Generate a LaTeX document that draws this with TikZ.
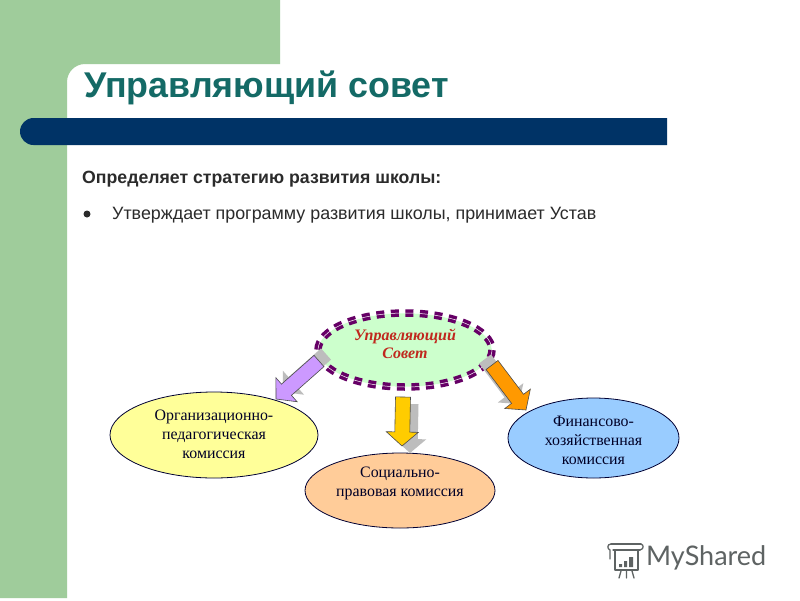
\documentclass[tikz,border=0pt]{standalone}
\usepackage{fontspec}
\setmainfont{Liberation Serif}
\newfontfamily\arialf{Liberation Sans}
\newfontfamily\logof{Lato}
\usetikzlibrary{calc,shapes.geometric}
\definecolor{sidegreen}{HTML}{9FCC9B}
\definecolor{barblue}{HTML}{003366}
\definecolor{titleteal}{HTML}{146A66}
\definecolor{bodygrey}{HTML}{2B2B2B}
\definecolor{dashpurple}{HTML}{660066}
\definecolor{arrowgrey}{HTML}{BDBDBD}
\definecolor{logogrey}{HTML}{5E6363}
\definecolor{yellowfill}{HTML}{FFFF99}
\definecolor{peachfill}{HTML}{FFCC99}
\definecolor{bluefill}{HTML}{99CCFF}
\definecolor{greenfill}{HTML}{CCFFCC}
\definecolor{councilred}{HTML}{C0281E}
\definecolor{lilacfill}{HTML}{CC99FF}
\definecolor{goldfill}{HTML}{FFCC00}
\definecolor{orangefill}{HTML}{FF9900}
\tikzset{
  x=1pt,y=-1pt,
  commission/.style={ellipse,draw=black!80!blue,line width=0.8pt,inner sep=0pt},
  commtext/.style={inner sep=0pt,align=center,text=black!85!blue,font=\fontsize{15.9}{19}\selectfont},
  headline/.style={anchor=base west,inner sep=0pt,font=\arialf\bfseries\fontsize{35.8}{40}\selectfont,text=titleteal},
  subhead/.style={anchor=base west,inner sep=0pt,font=\arialf\bfseries\fontsize{17.7}{20}\selectfont,text=bodygrey},
  bodyline/.style={anchor=base west,inner sep=0pt,font=\arialf\fontsize{17.87}{20}\selectfont,text=bodygrey},
  logoink/.style={draw=logogrey,line width=1.3pt,line cap=round,line join=round},
}
\newcommand{\blockarrow}[3]{% from, to, colour
  \coordinate (ba) at #1;
  \coordinate (bb) at #2;
  \coordinate (bh) at ($(bb)!14pt!(ba)$);
  \filldraw[#3,line join=miter]
    ($(ba)!7.5pt!90:(bb)$) -- ($(bh)!7.5pt!90:(bb)$) -- ($(bh)!16pt!90:(bb)$) -- (bb)
    -- ($(bh)!16pt!-90:(bb)$) -- ($(bh)!7.5pt!-90:(bb)$) -- ($(ba)!7.5pt!-90:(bb)$) -- cycle;
}
\begin{document}
\begin{tikzpicture}
\useasboundingbox (0,0) rectangle (800,600);
\fill[white] (0,0) rectangle (800,600);
% background
\fill[sidegreen] (0,0) -- (280,0) -- (280,64) -- (85,64) arc[start angle=-90,end angle=-180,radius=18] -- (67,598) -- (0,598) -- cycle;
\fill[barblue] (33.5,118) -- (667,118) -- (667,145) -- (33.5,145) arc[start angle=90,end angle=270,radius=13.5] -- cycle;
% texts
\node[headline] (title) at (84,97) {Управляющий совет};
\node[subhead] (lead) at (82,183) {Определяет стратегию развития школы:};
\fill[bodygrey] (87,214) circle (3.5);
\node[bodyline] (item) at (112,219) {Утверждает программу развития школы, принимает Устав};
% ellipses
\node[commission,fill=yellowfill,minimum width=208pt,minimum height=86pt] (org) at (214,435) {};
\node[commission,fill=peachfill,minimum width=190pt,minimum height=75pt] (soc) at (400,490.5) {};
\node[commission,fill=bluefill,minimum width=171pt,minimum height=80pt] (fin) at (593.5,438) {};
\node[ellipse,fill=greenfill,minimum width=174pt,minimum height=74pt,inner sep=0pt] (council) at (405,350) {};
\draw[dashpurple,line width=7.5pt,dash pattern=on 8pt off 6.5pt] (405,350) ellipse[x radius=87,y radius=37];
\draw[white,line width=0.5pt] (405,350) ellipse[x radius=87,y radius=37];
% ellipse texts
\node[commtext] (orgtext) at ($(org.center)+(0,-1)$) {Организационно-\\педагогическая\\комиссия};
\node[commtext] (soctext) at ($(soc.center)+(0,-7.5)$) {Социально-\\правовая комиссия};
\node[commtext] (fintext) at ($(fin.center)+(0,2)$) {Финансово-\\хозяйственная\\комиссия};
\node[inner sep=0pt,align=center,text=councilred,font=\bfseries\itshape\fontsize{16}{18}\selectfont] (counciltext) at ($(council.center)+(0,-6)$) {Управляющий\\Совет};
% arrows
\coordinate (a1s) at ($(council.center)+(-86,11)$);
\coordinate (a1e) at ($(org.center)+(62,-36)$);
\coordinate (a2s) at ($(council.center)+(-2,47)$);
\coordinate (a2e) at ($(soc.center)+(2,-44.5)$);
\coordinate (a3s) at ($(council.center)+(87,15)$);
\coordinate (a3e) at ($(fin.center)+(-67.5,-28)$);
\blockarrow{($(a1s)+(7,-7)$)}{($(a1e)+(7,-7)$)}{fill=arrowgrey,draw=none}
\blockarrow{($(a2s)+(8,7)$)}{($(a2e)+(8,7)$)}{fill=arrowgrey,draw=none}
\blockarrow{($(a3s)+(-7,-6)$)}{($(a3e)+(-7,-6)$)}{fill=arrowgrey,draw=none}
\blockarrow{(a1s)}{(a1e)}{fill=lilacfill,draw=black!70,line width=0.6pt}
\blockarrow{(a2s)}{(a2e)}{fill=goldfill,draw=black!70,line width=0.6pt}
\blockarrow{(a3s)}{(a3e)}{fill=orangefill,draw=black!70,line width=0.6pt}
% logo
\begin{scope}[shift={(607,540)}]
\draw[logoink] (4,4) -- (34,4) (6,10) -- (33,10) (8,10) -- (8,30) -- (31,30) -- (31,10);
\draw[logoink] (4,4) .. controls (0,4) and (0,9) .. (3,10) -- (3,19);
\draw[logoink] (34,4) .. controls (37,5) and (37,9) .. (33,10);
\draw[logoink] (14,31) -- (12,38) (19.5,31) -- (19.5,38) (25,31) -- (27,38);
\fill[logogrey] (12,24) rectangle (15,27) (17,21) rectangle (20,27) (22,17) rectangle (26,27);
\end{scope}
\node[anchor=base west,inner sep=0pt,text=logogrey,font=\logof\fontsize{27}{30}\selectfont] (logo) at (646,565) {MyShared};
\end{tikzpicture}
\end{document}
